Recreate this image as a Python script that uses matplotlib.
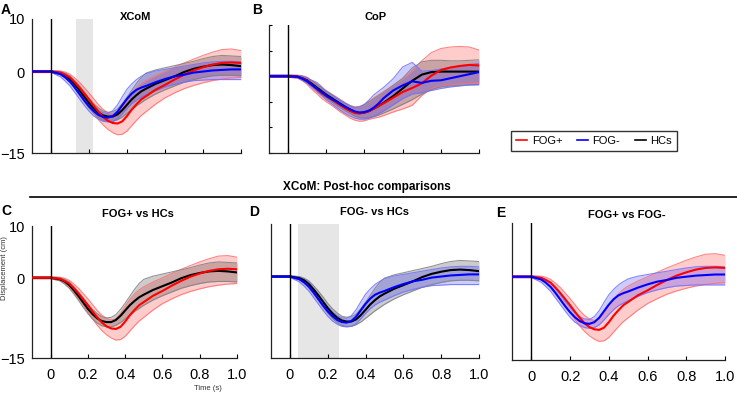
import matplotlib
matplotlib.use('Agg')
import matplotlib.pyplot as plt
from matplotlib.lines import Line2D

plt.rcParams['font.family'] = ['Liberation Sans', 'DejaVu Sans']

# time axis (s) - denser sampling around the dip
time = [-0.1, -0.05, 0.0, 0.05, 0.075, 0.1, 0.125, 0.15, 0.175, 0.2, 0.225, 0.25,
        0.275, 0.3, 0.325, 0.35, 0.375, 0.4, 0.425, 0.45, 0.475, 0.5,
        0.55, 0.6, 0.65, 0.7, 0.75, 0.8, 0.85, 0.9, 0.95, 1.0]

# XCoM displacement (cm): mean, lower and upper band
xcom_fogp = [0.2, 0.2, 0.2, 0.0, -0.4, -0.9, -1.8, -2.8, -3.9, -5.0, -6.2, -7.3,
             -8.3, -9.0, -9.4, -9.5, -9.1, -8.1, -6.9, -5.9, -5.0, -4.4,
             -3.2, -2.3, -1.3, -0.4, 0.4, 1.0, 1.5, 1.8, 1.9, 1.8]
xcom_fogp_lo = [0.0, 0.0, 0.0, -0.3, -0.8, -1.5, -2.6, -3.8, -5.0, -6.3, -7.6, -8.8,
                -9.8, -10.6, -11.2, -11.6, -11.5, -10.9, -9.9, -8.9, -8.0, -7.3,
                -5.9, -4.7, -3.8, -3.0, -2.4, -1.9, -1.5, -1.2, -1.0, -0.9]
xcom_fogp_hi = [0.4, 0.4, 0.4, 0.3, 0.1, -0.3, -1.0, -1.8, -2.8, -3.8, -4.9, -6.0,
                -6.9, -7.5, -7.8, -7.6, -6.6, -5.2, -3.9, -2.9, -2.1, -1.5,
                -0.6, 0.2, 1.0, 1.8, 2.5, 3.2, 3.8, 4.3, 4.4, 4.1]

xcom_fogm = [0.2, 0.2, 0.2, -0.3, -0.9, -1.7, -2.8, -4.0, -5.2, -6.3, -7.2, -7.9,
             -8.3, -8.4, -8.1, -7.3, -6.1, -4.9, -3.9, -3.2, -2.8, -2.5,
             -1.8, -1.2, -0.7, -0.4, 0.0, 0.2, 0.4, 0.5, 0.6, 0.6]
xcom_fogm_lo = [0.05, 0.05, 0.05, -0.8, -1.6, -2.5, -3.7, -4.9, -6.1, -7.2, -8.1, -8.7,
                -9.1, -9.2, -9.1, -8.6, -7.7, -6.7, -5.8, -5.1, -4.6, -4.2,
                -3.4, -2.7, -2.2, -1.8, -1.5, -1.4, -1.3, -1.3, -1.3, -1.3]
xcom_fogm_hi = [0.35, 0.35, 0.35, 0.1, -0.3, -0.9, -2.0, -3.1, -4.3, -5.4, -6.4, -7.1,
                -7.5, -7.6, -7.1, -6.0, -4.5, -3.1, -2.1, -1.3, -0.7, -0.2,
                0.3, 0.6, 0.9, 1.2, 1.5, 1.8, 2.0, 2.1, 2.1, 2.0]

xcom_hc = [0.2, 0.2, 0.2, -0.1, -0.5, -1.2, -2.2, -3.3, -4.5, -5.7, -6.7, -7.5,
           -8.0, -8.2, -8.2, -7.8, -7.0, -6.0, -5.0, -4.2, -3.5, -3.0,
           -2.1, -1.4, -0.7, 0.1, 0.7, 1.1, 1.4, 1.5, 1.4, 1.2]
xcom_hc_lo = [0.05, 0.05, 0.05, -0.4, -1.0, -1.8, -2.9, -4.1, -5.4, -6.6, -7.6, -8.4,
              -8.9, -9.1, -9.1, -8.8, -8.3, -7.6, -6.9, -6.2, -5.6, -5.0,
              -4.0, -3.2, -2.5, -1.8, -1.3, -0.9, -0.6, -0.5, -0.5, -0.6]
xcom_hc_hi = [0.35, 0.35, 0.35, 0.2, -0.1, -0.6, -1.5, -2.5, -3.6, -4.8, -5.8, -6.6,
              -7.2, -7.4, -7.3, -6.8, -5.8, -4.6, -3.3, -2.0, -0.9, -0.1,
              0.5, 0.9, 1.3, 1.7, 2.1, 2.6, 3.0, 3.2, 3.1, 3.0]

# CoP displacement (cm)
cop_fogp = [0.0, 0.0, 0.0, -0.1, -0.4, -0.9, -1.7, -2.5, -3.3, -3.9, -4.5, -5.1,
            -5.7, -6.3, -6.8, -7.2, -7.3, -7.1, -6.8, -6.3, -5.8, -5.3,
            -4.2, -3.1, -2.3, -1.4, 0.1, 1.2, 1.7, 2.0, 2.2, 2.1]
cop_fogp_lo = [-0.2, -0.2, -0.2, -0.4, -0.9, -1.6, -2.6, -3.4, -4.3, -5.0, -5.6, -6.3,
               -7.0, -7.6, -8.2, -8.6, -8.8, -8.7, -8.4, -8.2, -8.0, -7.7,
               -7.0, -6.4, -5.7, -3.8, -2.4, -1.9, -1.7, -1.5, -1.4, -1.3]
cop_fogp_hi = [0.2, 0.2, 0.2, 0.2, 0.1, -0.2, -0.9, -1.5, -2.2, -2.8, -3.4, -4.0,
               -4.6, -5.2, -5.7, -6.0, -5.9, -5.5, -4.9, -4.2, -3.6, -3.0,
               -1.8, -0.6, 1.0, 3.0, 4.6, 5.4, 5.7, 5.8, 5.7, 5.1]

cop_fogm = [0.0, 0.0, 0.0, -0.1, -0.5, -1.0, -1.7, -2.4, -3.1, -3.8, -4.4, -4.9,
            -5.5, -6.0, -6.5, -6.9, -7.1, -7.0, -6.7, -6.1, -5.3, -4.3,
            -2.8, -1.8, -1.0, -1.3, -0.9, -0.8, -0.4, 0.0, 0.4, 0.8]
cop_fogm_lo = [-0.2, -0.2, -0.2, -0.3, -0.8, -1.4, -2.2, -3.0, -3.8, -4.6, -5.3, -6.0,
               -6.7, -7.3, -7.8, -8.2, -8.4, -8.4, -8.2, -7.8, -7.3, -6.8,
               -5.6, -4.4, -3.5, -3.2, -2.8, -2.4, -2.1, -1.9, -1.7, -1.6]
cop_fogm_hi = [0.2, 0.2, 0.2, 0.1, -0.1, -0.4, -0.8, -1.2, -2.0, -3.0, -3.6, -4.2,
               -4.8, -5.3, -5.8, -6.2, -6.0, -5.5, -4.6, -3.6, -2.9, -2.2,
               -0.5, 1.8, 2.7, 1.0, 1.1, 1.4, 1.7, 2.0, 2.3, 2.5]

cop_hc = [0.0, 0.0, 0.0, -0.1, -0.4, -0.8, -1.5, -2.2, -2.9, -3.6, -4.2, -4.8,
          -5.4, -6.0, -6.5, -7.0, -7.2, -7.1, -6.8, -6.3, -5.8, -5.2,
          -3.9, -2.4, -0.9, 0.3, 0.8, 0.9, 0.9, 0.9, 0.9, 0.9]
cop_hc_lo = [-0.2, -0.2, -0.2, -0.3, -0.8, -1.3, -2.0, -2.8, -3.6, -4.3, -4.9, -5.6,
             -6.2, -6.8, -7.3, -7.8, -8.1, -8.2, -8.1, -7.9, -7.6, -7.2,
             -6.4, -5.5, -4.6, -3.5, -2.6, -2.1, -1.9, -1.8, -1.7, -1.7]
cop_hc_hi = [0.2, 0.2, 0.2, 0.15, 0.0, -0.3, -0.9, -1.6, -2.3, -2.9, -3.5, -4.1,
             -4.7, -5.3, -5.8, -6.1, -6.0, -5.6, -5.0, -4.4, -3.8, -3.2,
             -1.8, -0.4, 1.6, 2.8, 3.1, 3.1, 3.0, 3.0, 3.1, 3.2]

groups = ['FOG+', 'FOG-', 'HCs']
colors = {'FOG+': '#ff0000', 'FOG-': '#0000ff', 'HCs': '#000000'}
edge_colors = {'FOG+': '#ff7070', 'FOG-': '#7070ff', 'HCs': '#808080'}

xcom = {'FOG+': (xcom_fogp, xcom_fogp_lo, xcom_fogp_hi),
        'FOG-': (xcom_fogm, xcom_fogm_lo, xcom_fogm_hi),
        'HCs': (xcom_hc, xcom_hc_lo, xcom_hc_hi)}
cop = {'FOG+': (cop_fogp, cop_fogp_lo, cop_fogp_hi),
       'FOG-': (cop_fogm, cop_fogm_lo, cop_fogm_hi),
       'HCs': (cop_hc, cop_hc_lo, cop_hc_hi)}

W, H = 737.0, 393.0
fig = plt.figure(figsize=(W / 100, H / 100), dpi=100)


def box(left, top, right, bottom):
    # pixel box -> figure fraction
    return [left / W, 1 - bottom / H, (right - left) / W, (bottom - top) / H]


def panel(rect, data, show, shade=None, ylab=False, xlab=False, yticks_all=False):
    ax = fig.add_axes(rect)
    if shade:
        ax.axvspan(shade[0], shade[1], color='#e6e6e6', lw=0, zorder=0)
    for g in ['FOG+', 'HCs', 'FOG-']:
        if g not in show:
            continue
        m, lo, hi = data[g]
        ax.fill_between(time, lo, hi, color=colors[g], alpha=0.2, lw=0, zorder=1)
        ax.plot(time, lo, color=edge_colors[g], lw=0.8, alpha=0.85, zorder=2)
        ax.plot(time, hi, color=edge_colors[g], lw=0.8, alpha=0.85, zorder=2)
    for g in ['HCs', 'FOG+', 'FOG-']:
        if g in show:
            ax.plot(time, data[g][0], color=colors[g], lw=1.5, zorder=3)
    ax.axvline(0, color='black', lw=1, zorder=4)
    ax.set_xlim(-0.1, 1.0)
    ax.set_ylim(-15, 10)
    for s in ['top', 'right']:
        ax.spines[s].set_visible(False)
    for s in ['left', 'bottom']:
        ax.spines[s].set_color('#222222')
        ax.spines[s].set_linewidth(0.9)
    ax.set_xticks([0, 0.2, 0.4, 0.6, 0.8, 1.0])
    ax.tick_params(axis='x', direction='in', length=3, width=0.8, pad=7, labelsize=10.5)
    if xlab:
        ax.set_xticklabels(['0', '0.2', '0.4', '0.6', '0.8', '1.0'])
    else:
        ax.set_xticklabels([])
    if yticks_all:
        ax.set_yticks([-15, -10, -5, 0, 5, 10])
        ax.set_yticklabels([])
        ax.tick_params(axis='y', direction='in', length=2, width=0.8)
    elif ylab:
        ax.set_yticks([-15, 0, 10])
        ax.tick_params(axis='y', direction='in', length=0, pad=5, labelsize=10.5)
    else:
        ax.set_yticks([])
    return ax


panel(box(32, 19, 241, 153), xcom, groups, shade=(0.133, 0.219), ylab=True)
panel(box(269, 25, 479, 153), cop, groups, yticks_all=True)
panel(box(32, 226, 237, 358), xcom, ['FOG+', 'HCs'], ylab=True, xlab=True)
panel(box(271, 224, 479, 358), xcom, ['FOG-', 'HCs'], shade=(0.042, 0.26), xlab=True)
panel(box(512, 223, 725, 360), xcom, ['FOG+', 'FOG-'], xlab=True)

# panel letters and titles
for letter, x, y in [('A', 1, 3), ('B', 252, 3), ('C', 1, 204), ('D', 249, 205), ('E', 496, 206)]:
    fig.text(x / W, 1 - y / H, letter, fontsize=10, fontweight='bold', ha='left', va='top')
for title, x, y in [('XCoM', 136, 17), ('CoP', 376, 17), ('FOG+ vs HCs', 138, 214),
                    ('FOG- vs HCs', 374, 212), ('FOG+ vs FOG-', 627, 215)]:
    fig.text(x / W, 1 - y / H, title, fontsize=8, fontweight='bold', ha='center', va='center')

fig.text(367 / W, 1 - 187 / H, 'XCoM: Post-hoc comparisons', fontsize=8.5,
         fontweight='bold', ha='center', va='center')
fig.add_artist(Line2D([30 / W, 1.0], [1 - 197 / H, 1 - 197 / H], color='black', lw=1.2))

fig.text(5 / W, 1 - 268 / H, 'Displacement (cm)', fontsize=5.5, rotation=90,
         ha='center', va='center', color='#333333')
fig.text(208 / W, 1 - 388 / H, 'Time (s)', fontsize=5.5, ha='center', va='center',
         color='#333333')

handles = [Line2D([], [], color=colors[g], lw=1.2) for g in groups]
fig.legend(handles, groups, loc='center', bbox_to_anchor=(594 / W, 1 - 140.7 / H),
           ncol=3, fontsize=8, frameon=True, fancybox=False, edgecolor='black',
           handlelength=1.0, handletextpad=0.4, columnspacing=1.3, borderpad=0.45)

fig.savefig('out.png', dpi=100)
